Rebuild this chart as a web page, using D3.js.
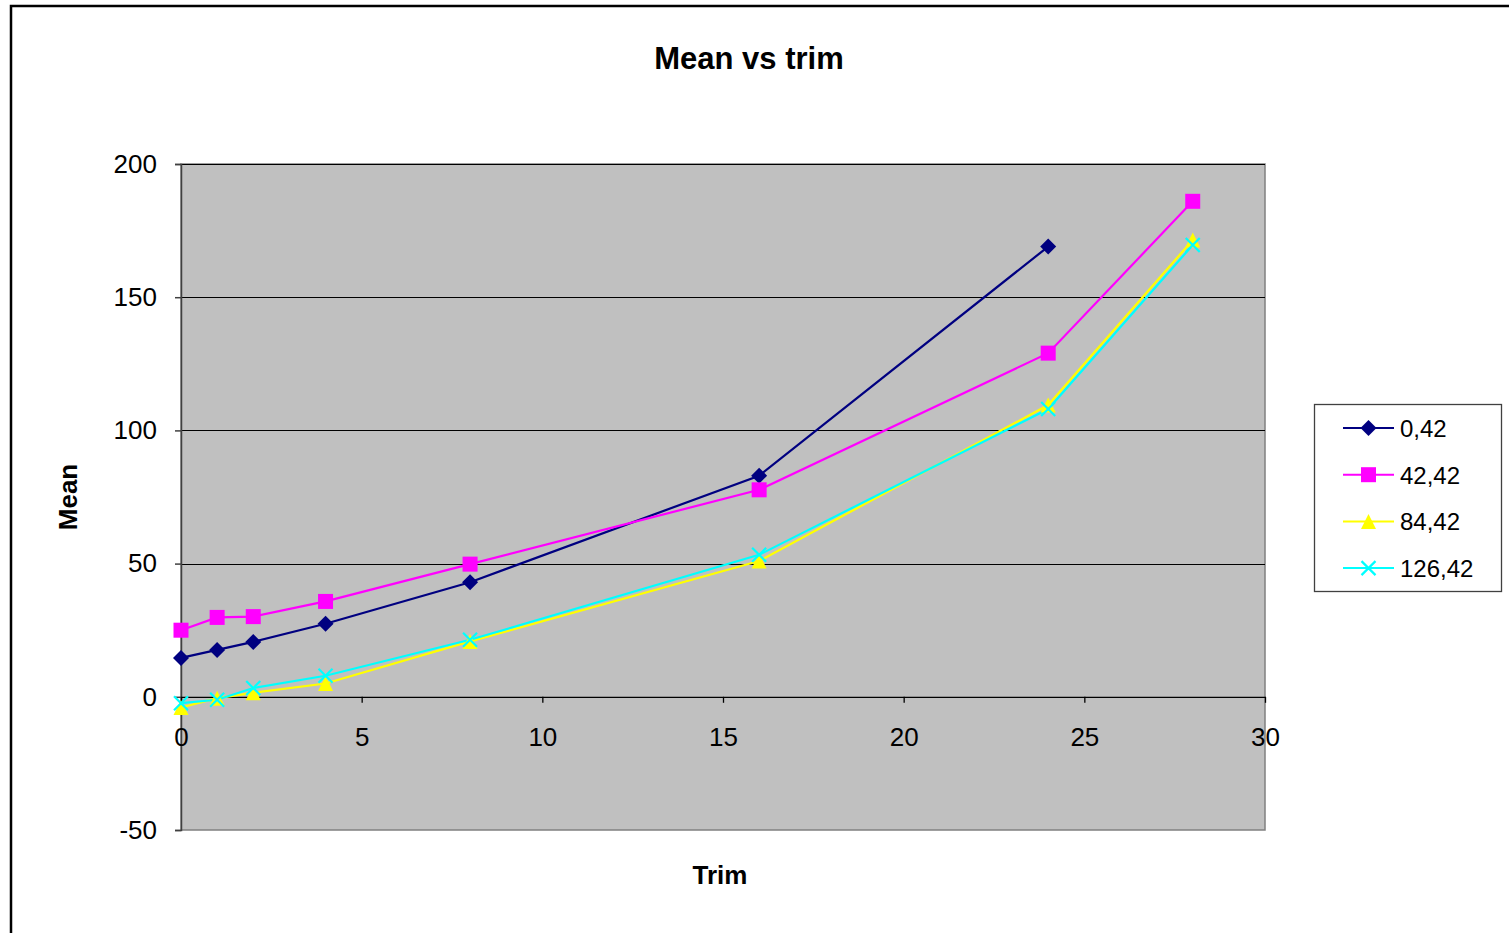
<!DOCTYPE html>
<html>
<head>
<meta charset="utf-8">
<script src="https://cdn.jsdelivr.net/npm/d3@7"></script>
<style>
  html, body { margin: 0; padding: 0; background: #fff; }
  svg { display: block; font-family: "Liberation Sans", Arial, sans-serif; }
</style>
</head>
<body>
<svg id="chart" width="1509" height="933"></svg>
<script>
// Trim levels sampled for each series
const trimA = [0, 1, 2, 4, 8, 16, 24];
const trimB = [0, 1, 2, 4, 8, 16, 24, 28];

// Mean values per series
const mean0_42   = [14.6, 17.6, 20.6, 27.4, 43.0, 83.0, 169.0];
const mean42_42  = [25.0, 29.8, 30.1, 35.8, 49.8, 77.7, 129.0, 186.0];
const mean84_42  = [-4.0, -0.5, 1.5, 5.0, 20.8, 51.0, 109.5, 171.5];
const mean126_42 = [-2.4, -1.1, 3.3, 7.9, 21.4, 53.3, 108.0, 169.6];

const seriesNames = ["0,42", "42,42", "84,42", "126,42"];
const xTicks = [0, 5, 10, 15, 20, 25, 30];
const yTicks = [-50, 0, 50, 100, 150, 200];

const series = [
  { name: seriesNames[0], x: trimA, y: mean0_42,   color: "#000080", marker: "diamond" },
  { name: seriesNames[1], x: trimB, y: mean42_42,  color: "#FF00FF", marker: "square" },
  { name: seriesNames[2], x: trimB, y: mean84_42,  color: "#FFFF00", marker: "triangle" },
  { name: seriesNames[3], x: trimB, y: mean126_42, color: "#00FFFF", marker: "cross" }
];

const svg = d3.select("#chart");
const plot = { left: 181, right: 1265, top: 164, bottom: 830 };

const x = d3.scaleLinear().domain([0, 30]).range([plot.left, plot.right]);
const y = d3.scaleLinear().domain([-50, 200]).range([plot.bottom, plot.top]);

// Outer chart frame
svg.append("rect")
  .attr("x", 11).attr("y", 6).attr("width", 1520).attr("height", 960)
  .attr("fill", "#fff").attr("stroke", "#000").attr("stroke-width", 2.5);

// Plot background
svg.append("rect")
  .attr("x", plot.left).attr("y", plot.top)
  .attr("width", plot.right - plot.left).attr("height", plot.bottom - plot.top)
  .attr("fill", "#C0C0C0").attr("stroke", "#808080").attr("stroke-width", 1.5);

// Horizontal gridlines
svg.append("g").selectAll("line")
  .data(yTicks.filter(d => d > 0))
  .join("line")
  .attr("x1", plot.left).attr("x2", plot.right)
  .attr("y1", d => Math.round(y(d)) + 0.5).attr("y2", d => Math.round(y(d)) + 0.5)
  .attr("stroke", "#000").attr("stroke-width", 1);

// Y axis (plain hyphen for negatives)
const yAxis = svg.append("g")
  .attr("transform", `translate(${plot.left},0)`)
  .call(d3.axisLeft(y).tickValues(yTicks).tickSize(6).tickPadding(18).tickFormat(d => String(d)));
yAxis.selectAll("path, line").attr("stroke", "#404040").attr("stroke-width", 1.5);
yAxis.selectAll("text").attr("font-size", 26).attr("fill", "#000")
  .attr("font-family", "Liberation Sans, Arial, sans-serif");

// X axis drawn along the zero line
const xAxis = svg.append("g")
  .attr("transform", `translate(0,${y(0)})`)
  .call(d3.axisBottom(x).tickValues(xTicks).tickSize(6).tickPadding(25).tickSizeOuter(0));
xAxis.selectAll("path, line").attr("stroke", "#000").attr("stroke-width", 1.3);
xAxis.selectAll("text").attr("font-size", 26).attr("fill", "#000")
  .attr("font-family", "Liberation Sans, Arial, sans-serif");

// Marker drawing helper
function drawMarker(g, type, color) {
  if (type === "diamond") {
    const s = 8;
    g.append("path").attr("d", `M0,${-s}L${s},0L0,${s}L${-s},0Z`).attr("fill", color);
  } else if (type === "square") {
    const s = 7.5;
    g.append("rect").attr("x", -s).attr("y", -s).attr("width", 2 * s).attr("height", 2 * s).attr("fill", color);
  } else if (type === "triangle") {
    const s = 7.5;
    g.append("path").attr("d", `M0,${-s}L${s},${s}L${-s},${s}Z`).attr("fill", color);
  } else if (type === "cross") {
    const s = 7;
    g.append("path").attr("d", `M${-s},${-s}L${s},${s}M${s},${-s}L${-s},${s}`)
      .attr("stroke", color).attr("stroke-width", 2.2).attr("fill", "none");
  }
}

const line = d3.line().x(d => x(d[0])).y(d => y(d[1]));

series.forEach(s => {
  const pts = s.x.map((v, i) => [v, s.y[i]]);
  svg.append("path")
    .datum(pts)
    .attr("d", line)
    .attr("fill", "none")
    .attr("stroke", s.color)
    .attr("stroke-width", 2.2);
});

series.forEach(s => {
  const pts = s.x.map((v, i) => [v, s.y[i]]);
  pts.forEach(p => {
    const g = svg.append("g").attr("transform", `translate(${x(p[0])},${y(p[1])})`);
    drawMarker(g, s.marker, s.color);
  });
});

// Title
svg.append("text")
  .attr("x", 749).attr("y", 69)
  .attr("text-anchor", "middle")
  .attr("font-size", 31).attr("font-weight", "bold")
  .text("Mean vs trim");

// Axis titles
svg.append("text")
  .attr("x", 720).attr("y", 884)
  .attr("text-anchor", "middle")
  .attr("font-size", 26).attr("font-weight", "bold")
  .text("Trim");

svg.append("text")
  .attr("transform", "translate(77,497) rotate(-90)")
  .attr("text-anchor", "middle")
  .attr("font-size", 26).attr("font-weight", "bold")
  .text("Mean");

// Legend
const legend = svg.append("g");
legend.append("rect")
  .attr("x", 1314.5).attr("y", 404.5).attr("width", 187).attr("height", 187)
  .attr("fill", "#fff").attr("stroke", "#404040").attr("stroke-width", 1.3);

series.forEach((s, i) => {
  const cy = 428 + i * 46.7;
  const g = legend.append("g");
  g.append("line")
    .attr("x1", 1343).attr("x2", 1394).attr("y1", cy).attr("y2", cy)
    .attr("stroke", s.color).attr("stroke-width", 2);
  const m = g.append("g").attr("transform", `translate(1368.5,${cy})`);
  drawMarker(m, s.marker, s.color);
  g.append("text")
    .attr("x", 1400).attr("y", cy + 9)
    .attr("font-size", 24)
    .text(s.name);
});
</script>
</body>
</html>
